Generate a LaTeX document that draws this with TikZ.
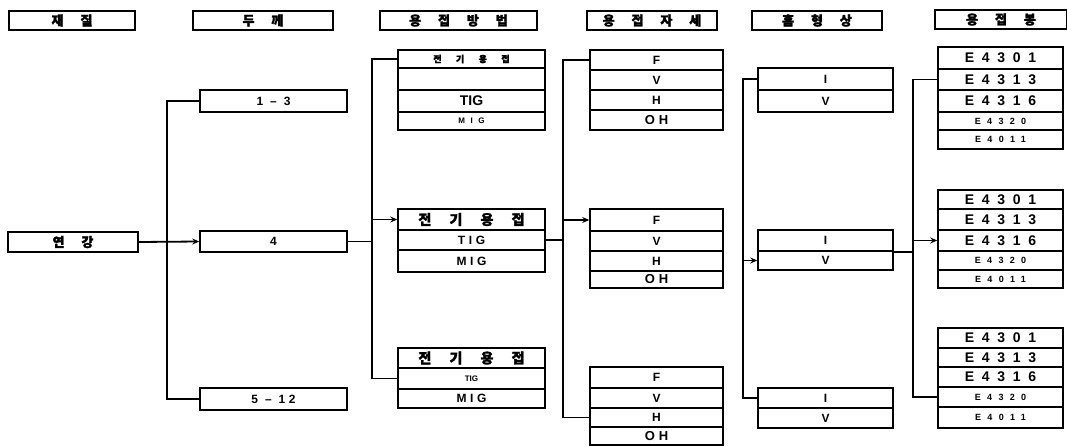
\documentclass[tikz,border=0pt]{standalone}
\usepackage{fontspec}
\setmainfont{Liberation Sans}
\newfontfamily\kr{Noto Sans CJK KR}[LetterSpace=130,FakeBold=2]
\newfontfamily\krs{Noto Sans CJK KR}[LetterSpace=160,FakeBold=1.5]
\newfontfamily\lsp{Liberation Sans}[LetterSpace=30]
\newfontfamily\esp{Liberation Sans}[LetterSpace=55]
\newfontfamily\esm{Liberation Sans}[LetterSpace=70]
\usetikzlibrary{arrows.meta}
\newcommand\fsz[1]{\fontsize{#1}{#1}\selectfont\bfseries}
\tikzset{
  cellst/.style={draw, line width=1.5pt, inner sep=0pt, anchor=center, font=\bfseries},
  hdr/.style={cellst, minimum height=19pt},
  ln/.style={line width=1.8pt},
  arr/.style={-{Stealth[length=7pt,width=6pt]}},
  c1/.style={cellst, minimum width=130pt, minimum height=20pt},
  c2/.style={cellst, minimum width=147pt},
  c3/.style={cellst, minimum width=147pt},
  c4/.style={cellst, minimum width=133pt},
  c5/.style={cellst, minimum width=135pt},
  c6/.style={cellst, minimum width=125pt},
}
\begin{document}
\begin{tikzpicture}[x=1pt,y=-1pt]
\useasboundingbox (0,0) rectangle (1067,446);
\fill[white] (0,0) rectangle (1067,446);
% headers
\node[hdr, minimum width=126pt] (h1) at (72,20.5) {\kr\fsz{13}재질};
\node[hdr, minimum width=140pt] (h2) at (263,20.5) {\kr\fsz{13}두께};
\node[hdr, minimum width=157pt] (h3) at (458.5,20.5) {\kr\fsz{13}용접방법};
\node[hdr, minimum width=130pt] (h4) at (652,20.5) {\kr\fsz{13}용접자세};
\node[hdr, minimum width=130pt] (h5) at (817,20.5) {\kr\fsz{13}홈형상};
\node[hdr, minimum width=132pt] (h6) at (1001,19.5) {\kr\fsz{13}용접봉};
% column 1
\node[c1] (yk) at (73,242) {\kr\fsz{13}연강};
% column 2
\node[c2, minimum height=22pt] (t1) at (273.5,101) {\lsp\fsz{12}1 – 3};
\node[c2, minimum height=21pt] (t2) at (273.5,241.5) {\lsp\fsz{12}4};
\node[c2, minimum height=22pt] (t3) at (273.5,399) {\lsp\fsz{12}5 – 12};
% column 3
\node[c3, minimum height=18pt] (m1a) at (471.5,59) {\krs\fsz{9}전기용접};
\node[c3, minimum height=22pt] (m1b) at (471.5,79) {};
\node[c3, minimum height=22pt] (m1c) at (471.5,101) {\fsz{14}TIG};
\node[c3, minimum height=18pt] (m1d) at (471.5,121) {\esm\fsz{8}MIG};
\node[c3, minimum height=21pt] (m2a) at (471.5,219.5) {\kr\fsz{14}전기용접};
\node[c3, minimum height=20pt] (m2b) at (471.5,240) {\lsp\fsz{12}TIG};
\node[c3, minimum height=22pt] (m2c) at (471.5,261) {\lsp\fsz{12}MIG};
\node[c3, minimum height=20pt] (m3a) at (471.5,358) {\kr\fsz{14}전기용접};
\node[c3, minimum height=21pt] (m3b) at (471.5,378.5) {\fsz{8}TIG};
\node[c3, minimum height=19pt] (m3c) at (471.5,398.5) {\lsp\fsz{12}MIG};
% column 4
\node[c4, minimum height=20pt] (p1a) at (656.5,60) {\fsz{12}F};
\node[c4, minimum height=20pt] (p1b) at (656.5,80) {\fsz{12}V};
\node[c4, minimum height=20pt] (p1c) at (656.5,100) {\fsz{12}H};
\node[c4, minimum height=20pt] (p1d) at (656.5,120) {\lsp\fsz{13}OH};
\node[c4, minimum height=22pt] (p2a) at (656.5,220) {\fsz{12}F};
\node[c4, minimum height=20pt] (p2b) at (656.5,241) {\fsz{12}V};
\node[c4, minimum height=20pt] (p2c) at (656.5,261) {\fsz{12}H};
\node[c4, minimum height=17pt] (p2d) at (656.5,279.5) {\lsp\fsz{13}OH};
\node[c4, minimum height=21pt] (p3a) at (656.5,377.5) {\fsz{12}F};
\node[c4, minimum height=20pt] (p3b) at (656.5,398) {\fsz{12}V};
\node[c4, minimum height=19pt] (p3c) at (656.5,417.5) {\fsz{12}H};
\node[c4, minimum height=18pt] (p3d) at (656.5,436) {\lsp\fsz{13}OH};
% column 5
\node[c5, minimum height=22pt] (g1a) at (825.5,79) {\fsz{12}I};
\node[c5, minimum height=22pt] (g1b) at (825.5,101) {\fsz{12}V};
\node[c5, minimum height=21pt] (g2a) at (825.5,240.5) {\fsz{12}I};
\node[c5, minimum height=19pt] (g2b) at (825.5,260.5) {\fsz{12}V};
\node[c5, minimum height=20pt] (g3a) at (825.5,398) {\fsz{12}I};
\node[c5, minimum height=20pt] (g3b) at (825.5,418) {\fsz{12}V};
% column 6
\node[c6, minimum height=22pt] (e1a) at (1000.5,58) {\esp\fsz{14}E4301};
\node[c6, minimum height=21pt] (e1b) at (1000.5,79.5) {\esp\fsz{14}E4313};
\node[c6, minimum height=22pt] (e1c) at (1000.5,101) {\esp\fsz{14}E4316};
\node[c6, minimum height=18pt] (e1d) at (1000.5,121) {\esm\fsz{9}E4320};
\node[c6, minimum height=19pt] (e1e) at (1000.5,139.5) {\esm\fsz{9}E4011};
\node[c6, minimum height=19pt] (e2a) at (1000.5,199.5) {\esp\fsz{14}E4301};
\node[c6, minimum height=21pt] (e2b) at (1000.5,219.5) {\esp\fsz{14}E4313};
\node[c6, minimum height=21pt] (e2c) at (1000.5,240.5) {\esp\fsz{14}E4316};
\node[c6, minimum height=19pt] (e2d) at (1000.5,260.5) {\esm\fsz{9}E4320};
\node[c6, minimum height=18pt] (e2e) at (1000.5,279) {\esm\fsz{9}E4011};
\node[c6, minimum height=20pt] (e3a) at (1000.5,338) {\esp\fsz{14}E4301};
\node[c6, minimum height=19pt] (e3b) at (1000.5,357.5) {\esp\fsz{14}E4313};
\node[c6, minimum height=20pt] (e3c) at (1000.5,377) {\esp\fsz{14}E4316};
\node[c6, minimum height=20pt] (e3d) at (1000.5,397) {\esm\fsz{9}E4320};
\node[c6, minimum height=21pt] (e3e) at (1000.5,417.5) {\esm\fsz{9}E4011};
% bus positions
\coordinate (b2) at (167,0);
\coordinate (b3) at (372,0);
\coordinate (b4) at (563,0);
\coordinate (b5) at (743,0);
\coordinate (b6) at (913,0);
% connectors
\draw[ln,arr] (yk.east) -- (t2.west);
\draw[ln] (t1.west) -- (t1.west -| b2) |- (t3.west);
\draw[ln] (t2.east) -- (t2.east -| b3);
\draw[ln] (m1a.west) -- (m1a.west -| b3) |- (m3b.west);
\draw[ln,arr] (m2a.west -| b3) -- (m2a.west);
\draw[ln] (m2b.east) -- (m2b.east -| b4);
\draw[ln] (p1a.west) -- (p1a.west -| b4) |- (p3c.west);
\draw[ln,arr] (p2a.west -| b4) -- (p2a.west);
\draw[ln] (g1a.west) -- (g1a.west -| b5) |- (g3a.west);
\draw[ln,arr] (g2b.west -| b5) -- (g2b.west);
\draw[ln] (g2a.south east) -- (g2a.south east -| b6);
\draw[ln] (e1b.west) -- (e1b.west -| b6) |- (e3d.west);
\draw[ln,arr] (e2c.west -| b6) -- (e2c.west);
\end{tikzpicture}
\end{document}
